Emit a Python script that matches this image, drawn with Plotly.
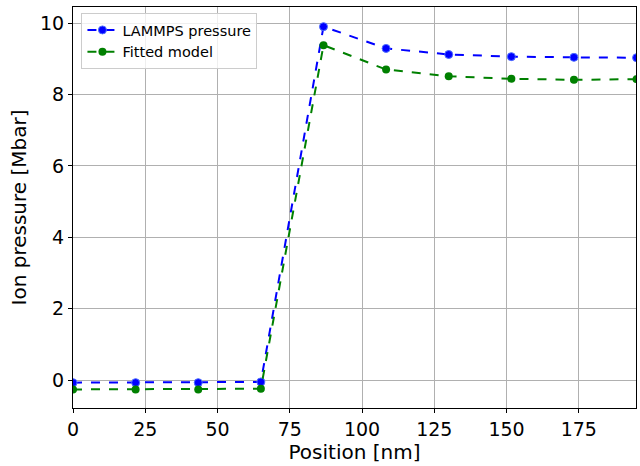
import plotly.graph_objects as go

position_nm = [0, 21.67, 43.33, 65.0, 86.67, 108.33, 130.0, 151.67, 173.33, 195.0]
lammps_pressure = [-0.07, -0.07, -0.07, -0.05, 9.90, 9.29, 9.12, 9.06, 9.04, 9.03]
fitted_model = [-0.26, -0.26, -0.26, -0.24, 9.38, 8.70, 8.51, 8.44, 8.41, 8.43]

fig = go.Figure()
fig.add_trace(go.Scatter(x=position_nm, y=lammps_pressure, mode="lines+markers",
                         name="LAMMPS pressure",
                         line=dict(color="#0000ff", dash="dash", width=2),
                         marker=dict(size=8, color="#0000ff", line=dict(width=1, color="#4f6fff"))))
fig.add_trace(go.Scatter(x=position_nm, y=fitted_model, mode="lines+markers",
                         name="Fitted model",
                         line=dict(color="#008000", dash="dash", width=2),
                         marker=dict(size=8, color="#008000")))

axis_common = dict(showline=True, linecolor="black", linewidth=1, mirror=True,
                   ticks="outside", ticklen=4, tickcolor="black",
                   showgrid=True, gridcolor="#b0b0b0", gridwidth=1,
                   zeroline=False, tickfont=dict(size=19, color="black"),
                   automargin=False)
fig.update_xaxes(range=[0, 194.8], tickvals=[0, 25, 50, 75, 100, 125, 150, 175],
                 title=dict(text="Position [nm]", font=dict(size=20, color="black"), standoff=4),
                 **axis_common)
fig.update_yaxes(range=[-0.78, 10.45], tickvals=[0, 2, 4, 6, 8, 10],
                 title=dict(text="Ion pressure [Mbar]", font=dict(size=20, color="black"), standoff=8),
                 **axis_common)
fig.update_layout(width=640, height=466, plot_bgcolor="white", paper_bgcolor="white",
                  font=dict(family="DejaVu Sans", color="black"),
                  margin=dict(l=73, r=4, t=7, b=58, autoexpand=False),
                  legend=dict(x=0.015, y=0.985, xanchor="left", yanchor="top",
                              bgcolor="rgba(255,255,255,0.8)", bordercolor="#cccccc", borderwidth=1,
                              font=dict(size=14.5), tracegroupgap=0),
                  showlegend=True)
fig.write_html("out.html", config={"displayModeBar": False},
               post_script="document.body.style.margin='0';document.body.style.padding='0';")
